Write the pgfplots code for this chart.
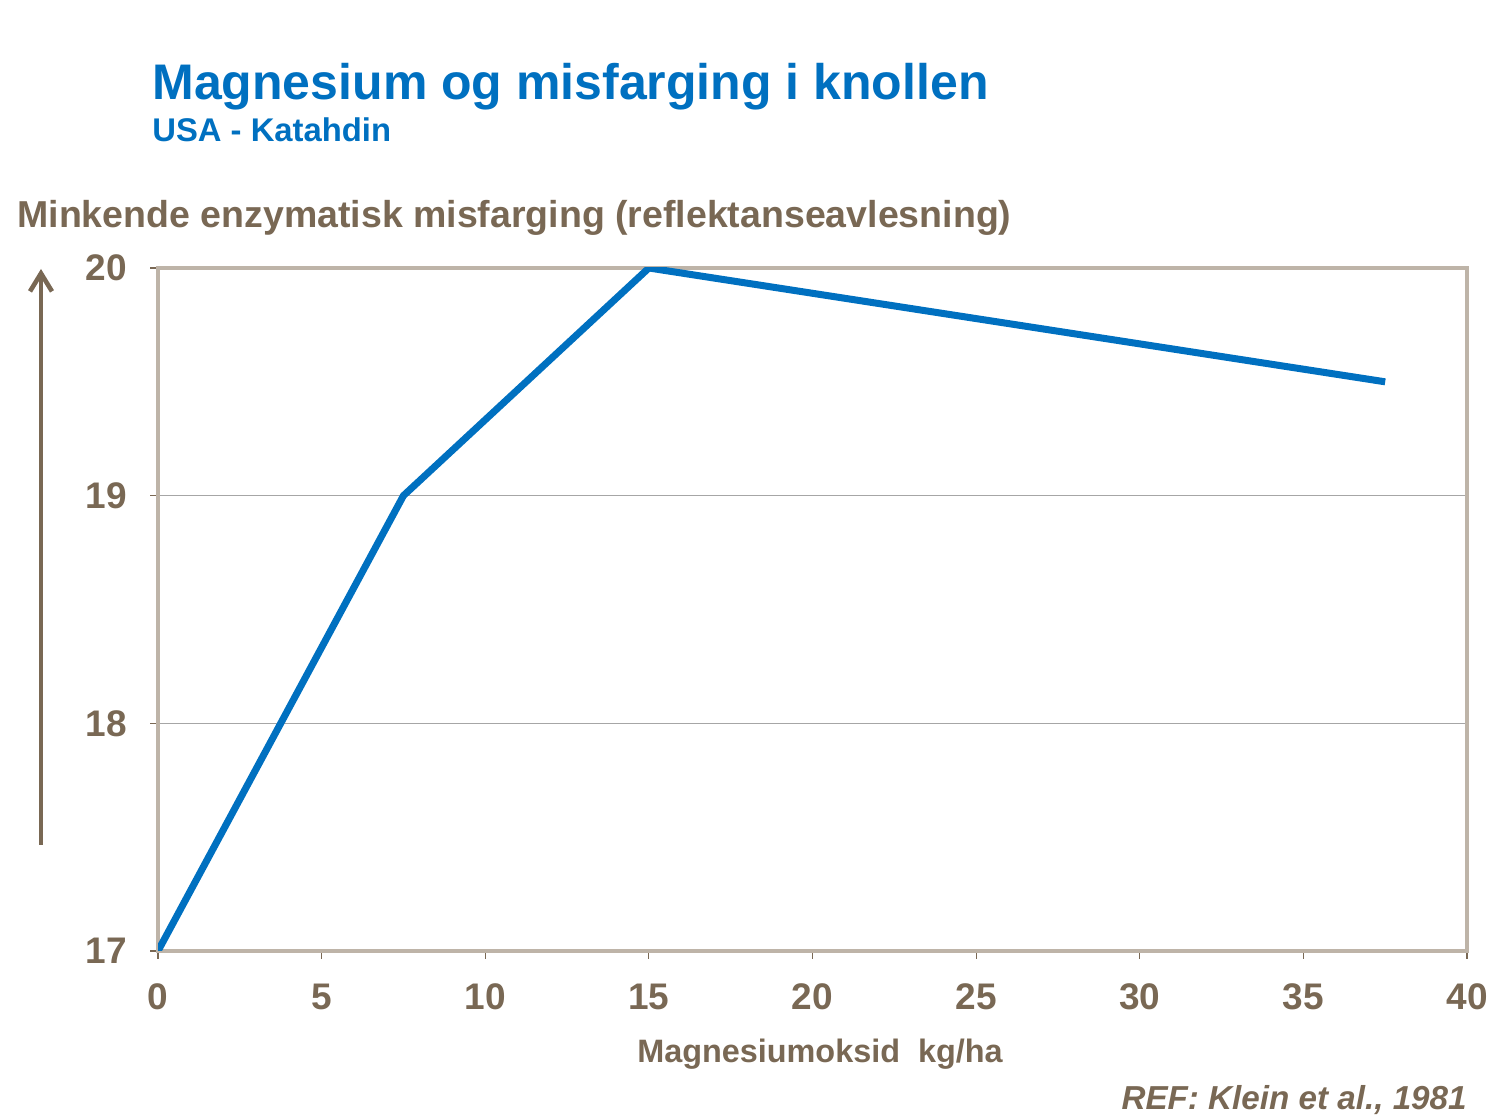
\documentclass[border=0pt]{standalone}
\usepackage{pgfplots}
\pgfplotsset{compat=1.18}
\usetikzlibrary{arrows.meta}
\usepackage{fontspec}
\setmainfont{Liberation Sans}
\definecolor{tblue}{RGB}{0,112,192}
\definecolor{tbrown}{RGB}{121,104,84}
\definecolor{frame}{RGB}{190,180,168}
\begin{document}
\begin{tikzpicture}[x=1pt,y=1pt]
\path (0,0) rectangle (750,558.5);
\begin{axis}[
  at={(79pt,83pt)}, anchor=south west,
  scale only axis, width=654.5pt, height=341.5pt,
  xmin=0, xmax=40, ymin=17, ymax=20,
  xtick={0,5,...,40}, ytick={17,18,19,20},
  axis line style={draw=frame, line width=1.8pt},
  tick style={draw=tbrown, line width=0.6pt},
  tick align=outside, major tick length=4pt,
  xtick pos=bottom, ytick pos=left,
  ymajorgrids, grid style={draw=black!35, line width=0.4pt},
  ticklabel style={font=\fontsize{18.5}{20}\bfseries, text=tbrown},
  /pgf/number format/assume math mode=true,
  yticklabel style={xshift=-8pt},
  xticklabel style={yshift=-9pt},
]
\addplot[tblue, line width=3.5pt, line join=round] coordinates {(0,17) (7.5,19) (15,20) (37.5,19.5)};
\end{axis}
\draw[tbrown, line width=2.3pt, -{Straight Barb[length=9pt,width=11pt]}] (20.5,136) -- (20.5,424);
\node[anchor=base west, inner sep=0, text=tblue, font=\fontsize{25}{30}\bfseries] at (76,508.5) {Magnesium og misfarging i knollen};
\node[anchor=base west, inner sep=0, text=tblue, font=\fontsize{16.4}{18}\bfseries] at (76,487.5) {USA - Katahdin};
\node[anchor=base west, inner sep=0, text=tbrown, font=\fontsize{18.75}{20}\bfseries] at (8.5,444.5) {Minkende enzymatisk misfarging (reflektanseavlesning)};
\node[anchor=base, inner sep=0, text=tbrown, font=\fontsize{16.2}{18}\bfseries] at (410,27) {Magnesiumoksid\ \ kg/ha};
\node[anchor=base east, inner sep=0, text=tbrown, font=\fontsize{16.6}{18}\bfseries\itshape] at (733.5,3.5) {REF: Klein et al., 1981};
\end{tikzpicture}
\end{document}
